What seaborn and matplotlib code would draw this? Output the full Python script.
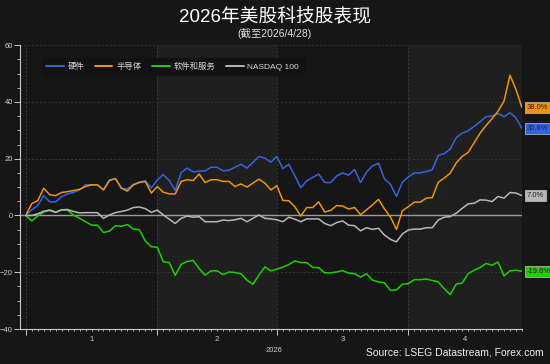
import numpy as np
import pandas as pd
import matplotlib
matplotlib.use("Agg")
import matplotlib.pyplot as plt
import seaborn as sns
from matplotlib.ticker import MultipleLocator, FixedLocator

# weekday dates (Datastream style, holidays carried forward)
dates = pd.bdate_range("2026-01-01", "2026-04-28")

series_names = ["硬件", "半导体", "软件和服务", "NASDAQ 100"]
series_colors = ["#3366dd", "#ee9410", "#1fd000", "#b8b8b8"]

hardware = [
    0, 2.0, 3.5, 7.0, 4.8, 4.8, 6.6, 7.6, 8.1, 9.0, 10.8, 10.8, 10.8, 9.0, 12.6, 13.0, 9.6, 9.3,
    11.0, 11.8, 12.2, 9.7, 12.5, 14.4, 12.3, 8.8, 15.1, 16.7, 15.4, 15.6, 15.7, 17.0,
    17.0, 15.7, 16.0, 17.0, 18.0, 16.7, 18.7, 20.8, 20.2, 18.8,
    20.8, 16.5, 18.1, 14.0, 9.8, 12.2, 13.4, 14.6, 11.6, 11.6, 13.9, 15.0, 14.2, 16.2, 11.6,
    15.3, 17.5, 18.4, 12.9, 11.0, 6.7, 11.7,
    13.6, 15.0, 15.0, 15.5, 16.1, 21.1, 21.8, 23.4, 27.4, 29.0, 29.8, 31.4, 33.0, 34.8,
    35.0, 35.9, 34.8, 36.2, 34.4, 30.6,
]
semis = [
    0, 4.2, 5.2, 9.6, 7.3, 7.0, 8.1, 8.4, 8.8, 9.2, 10.2, 10.8, 10.8, 9.0, 12.3, 13.0, 9.6, 8.6,
    10.8, 11.6, 12.0, 7.9, 10.2, 8.2, 7.6, 7.6, 12.0, 12.6, 12.3, 14.6, 11.6, 12.6,
    12.6, 12.0, 12.0, 10.2, 11.1, 10.0, 11.4, 12.8, 11.4, 9.0,
    10.5, 5.3, 5.2, 3.1, -0.2, 2.8, 2.8, 4.8, 1.2, 1.8, 3.5, 3.3, 2.3, 2.8, 0.3,
    2.0, 3.7, 5.7, 2.3, -0.5, -4.9, 1.7,
    3.1, 4.7, 4.7, 6.1, 6.3, 11.7, 13.2, 14.9, 18.5, 20.8, 22.2, 25.6, 29.0, 31.7,
    34.1, 36.7, 40.3, 49.4, 44.4, 38.0,
]
software = [
    0, -1.9, -0.2, 1.2, 2.0, 1.2, 2.0, 1.9, 0.1, -1.0, -2.2, -3.4, -3.4, -6.0, -5.5, -3.6, -3.8, -3.2,
    -4.8, -5.0, -9.0, -11.0, -11.2, -16.3, -16.6, -21.1, -17.2, -16.2, -15.8, -18.7, -21.0, -19.5,
    -19.5, -20.8, -19.9, -20.1, -20.5, -22.8, -24.2, -21.0, -18.1, -19.5,
    -18.9, -18.2, -17.3, -16.0, -16.6, -16.6, -18.3, -18.4, -20.2, -20.2, -19.9, -19.4, -20.3, -20.5, -21.7,
    -20.5, -22.8, -23.4, -23.7, -26.4, -26.2, -24.2,
    -24.0, -22.6, -22.6, -22.4, -22.9, -23.4, -25.8, -27.9, -24.2, -23.8, -20.5, -19.3, -18.3, -16.9,
    -17.5, -16.4, -21.3, -19.5, -19.3, -19.6,
]
nasdaq = [
    0, 0.0, 0.6, 1.5, 1.8, 1.1, 2.0, 2.1, 1.4, 0.9, 1.0, 1.0, 1.0, -1.0, 0.2, 1.0, 1.4, 1.9,
    2.8, 3.0, 2.4, 1.1, 1.9, 0.2, -1.3, -2.8, -1.0, -0.2, -0.6, -0.4, -2.2, -2.2,
    -2.2, -1.6, -1.8, -1.5, -1.0, -2.2, -1.0, 0.2, -1.0, -1.2,
    -1.5, -2.2, -0.6, -1.3, -2.2, -1.2, -1.2, -1.2, -2.8, -3.6, -2.5, -1.9, -3.4, -3.6, -5.4,
    -4.3, -4.9, -4.5, -6.9, -8.4, -9.3, -6.5,
    -5.1, -4.8, -4.8, -4.3, -4.3, -1.6, -0.6, -0.4, 0.8, 2.5, 4.1, 4.3, 5.5, 5.4,
    4.9, 6.7, 6.1, 8.1, 7.9, 7.0,
]
end_labels = ["30.6%", "38.0%", "-19.6%", "7.0%"]
month_labels = ["1", "2", "3", "4"]

values = [hardware, semis, software, nasdaq]
frames = []
for name, vals in zip(series_names, values):
    frames.append(pd.DataFrame({"idx": np.arange(len(dates)), "date": dates,
                                "series": name, "value": vals}))
df = pd.concat(frames, ignore_index=True)

sns.set_theme(style="dark")
plt.rcParams["font.family"] = ["Liberation Sans", "Noto Sans CJK SC", "DejaVu Sans"]

bg = "#161616"
band = "#1f1f1f"
fig = plt.figure(figsize=(5.5, 3.64), dpi=100, facecolor=bg)
ax = fig.add_axes([0.036, 0.096, 0.913, 0.78])
ax.set_facecolor(bg)

# month bands
month_start = [i for i in range(len(dates)) if i == 0 or dates[i].month != dates[i - 1].month]
bounds = month_start + [len(dates) - 1]
for k in range(len(month_start)):
    if k % 2 == 1:
        ax.axvspan(bounds[k], bounds[k + 1], color=band, zorder=0, lw=0)
for b in month_start:
    ax.axvline(b, color="#3a3a3a", lw=0.7, ls=(0, (2, 2)), zorder=0.5)
for yv in [-40, -20, 20, 40, 60]:
    ax.axhline(yv, color="#333333", lw=0.7, ls=(0, (2, 2)), zorder=0.5)
ax.axhline(0, color="#9a9a9a", lw=1.0, zorder=1)

sns.lineplot(data=df, x="idx", y="value", hue="series", hue_order=series_names,
             palette=series_colors, lw=1.1, ax=ax, legend=False, zorder=3)

ax.set_xlim(-1, len(dates) - 1)
ax.set_ylim(-40, 60)
ax.set_xlabel("")
ax.set_ylabel("")
ax.grid(False)

for s in ["top", "right"]:
    ax.spines[s].set_visible(False)
for s in ["left", "bottom"]:
    ax.spines[s].set_color("#c8c8c8")
    ax.spines[s].set_linewidth(0.8)

ax.yaxis.set_major_locator(MultipleLocator(20))
ax.yaxis.set_minor_locator(MultipleLocator(5))
ax.tick_params(axis="y", which="major", length=4, width=0.7, color="#c8c8c8",
               labelsize=5.5, labelcolor="#d0d0d0", pad=1, left=True)
ax.tick_params(axis="y", which="minor", length=2, width=0.6, color="#c8c8c8", left=True)

ax.xaxis.set_major_locator(FixedLocator(month_start))
ax.xaxis.set_minor_locator(FixedLocator(range(len(dates))))
ax.set_xticklabels([])
ax.tick_params(axis="x", which="major", length=4, width=0.7, color="#c8c8c8", bottom=True)
ax.tick_params(axis="x", which="minor", length=1.5, width=0.6, color="#c8c8c8", bottom=True)

for k, lab in enumerate(month_labels):
    ax.text((bounds[k] + bounds[k + 1]) / 2, -0.025, lab, transform=ax.get_xaxis_transform(),
            ha="center", va="top", fontsize=5.5, color="#d0d0d0")
ax.text((bounds[0] + bounds[-1]) / 2, -0.062, "2026", transform=ax.get_xaxis_transform(),
        ha="center", va="top", fontsize=5.5, color="#d0d0d0")

# end value tags
last = len(dates) - 1
for vals, col, lab in zip(values, series_colors, end_labels):
    ax.annotate(lab, xy=(last, vals[-1]), xytext=(3.5, 0), textcoords="offset points",
                ha="left", va="center", fontsize=5.5, color="#222222",
                bbox=dict(boxstyle="square,pad=0.25", fc=col, ec="#e0e0e0", lw=0.4),
                annotation_clip=False, zorder=5)

# legend
handles = [plt.Line2D([], [], color=c, lw=1.4) for c in series_colors]
leg = ax.legend(handles, series_names, loc="upper left", bbox_to_anchor=(0.035, 0.97),
                ncol=4, frameon=True, fontsize=6, handlelength=2.1, columnspacing=1.3,
                handletextpad=0.45, borderpad=0.55)
leg.get_frame().set_facecolor("#121212")
leg.get_frame().set_edgecolor("#121212")
leg.get_frame().set_alpha(1)
for t in leg.get_texts():
    t.set_color("#d8d8d8")

fig.text(0.5, 0.955, "2026年美股科技股表现", ha="center", va="center",
         fontsize=13.5, color="white")
fig.text(0.5, 0.908, "(截至2026/4/28)", ha="center", va="center",
         fontsize=7.5, color="#e0e0e0")
fig.text(0.988, 0.018, "Source: LSEG Datastream, Forex.com", ha="right", va="bottom",
         fontsize=7.5, color="#f0f0f0")

fig.savefig("out.png", dpi=100, facecolor=bg)
